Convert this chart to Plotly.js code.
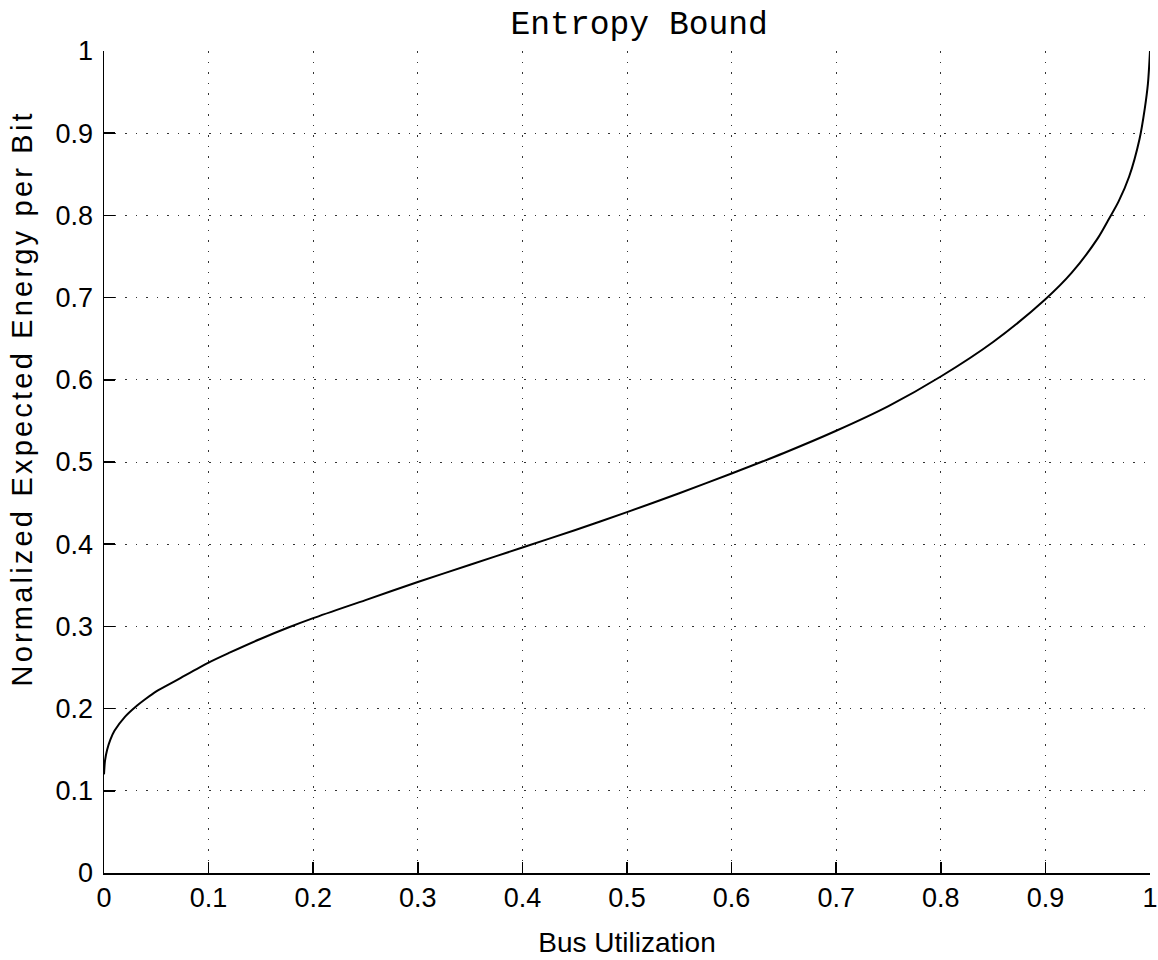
<!DOCTYPE html>
<html>
<head>
<meta charset="utf-8">
<script src="https://cdn.plot.ly/plotly-3.0.1.min.js"></script>
<style>html,body{margin:0;padding:0;background:#fff;}#chart{width:1158px;height:960px;}
#chart .annotation-text{letter-spacing:3.2px;}</style>
</head>
<body>
<div id="chart"></div>
<script>
const busUtilization = [0, 0.001, 0.003, 0.006, 0.01, 0.02, 0.03, 0.04, 0.05, 0.07, 0.1, 0.12, 0.15, 0.175, 0.2, 0.25, 0.3, 0.35, 0.4, 0.45, 0.5, 0.55, 0.6, 0.65, 0.7, 0.75, 0.8, 0.85, 0.9, 0.925, 0.95, 0.96, 0.97, 0.98, 0.99, 0.995, 0.998, 1.0];
const energyPerBit = [0.12, 0.137, 0.150, 0.162, 0.173, 0.190, 0.202, 0.212, 0.221, 0.235, 0.256, 0.268, 0.285, 0.298, 0.310, 0.332, 0.354, 0.375, 0.396, 0.417, 0.439, 0.462, 0.486, 0.511, 0.538, 0.568, 0.604, 0.646, 0.698, 0.730, 0.772, 0.794, 0.817, 0.847, 0.893, 0.930, 0.960, 1.0];
const xTicks = [0, 0.1, 0.2, 0.3, 0.4, 0.5, 0.6, 0.7, 0.8, 0.9, 1];
const xTickLabels = ['0', '0.1', '0.2', '0.3', '0.4', '0.5', '0.6', '0.7', '0.8', '0.9', '1'];
const yTicks = [0, 0.1, 0.2, 0.3, 0.4, 0.5, 0.6, 0.7, 0.8, 0.9, 1];
const yTickLabels = ['0', '0.1', '0.2', '0.3', '0.4', '0.5', '0.6', '0.7', '0.8', '0.9', '1'];
const yTitle = 'Normalized Expected Energy per Bit';

const trace = {
  x: busUtilization, y: energyPerBit, type: 'scatter', mode: 'lines',
  line: {color: '#000', width: 2, shape: 'spline', smoothing: 0.8},
  hoverinfo: 'skip'
};

const axisCommon = {
  showline: true, linecolor: '#000', linewidth: 1.5, mirror: false,
  ticks: 'inside', ticklen: 11, tickwidth: 1.5, tickcolor: '#000',
  showgrid: true, gridcolor: '#333', gridwidth: 1, griddash: '1.5px,9px',
  zeroline: false, ticklabeloverflow: 'allow',
  tickfont: {family: 'Liberation Sans, Arial, sans-serif', size: 27, color: '#000'}
};

const layout = {
  width: 1158, height: 960,
  margin: {l: 104, r: 8, t: 51, b: 87},
  paper_bgcolor: '#fff', plot_bgcolor: '#fff',
  showlegend: false,
  title: {text: 'Entropy Bound', font: {family: 'Liberation Mono, Courier New, monospace', size: 33, color: '#000'}, x: 0.552, xanchor: 'center', y: 0.977, yanchor: 'middle'},
  xaxis: Object.assign({}, axisCommon, {
    range: [0, 1], tickvals: xTicks, ticktext: xTickLabels, ticklabelstandoff: 0,
    title: {text: 'Bus Utilization', font: {family: 'Liberation Sans, Arial, sans-serif', size: 28, color: '#000'}, standoff: 20}
  }),
  yaxis: Object.assign({}, axisCommon, {
    range: [0, 1], tickvals: yTicks, ticktext: yTickLabels, ticklabelstandoff: 4
  }),
  annotations: [{
    text: yTitle, textangle: -90, showarrow: false,
    xref: 'paper', yref: 'paper', x: -0.079, y: 0.577, xanchor: 'center', yanchor: 'middle',
    font: {family: 'Liberation Sans, Arial, sans-serif', size: 29, color: '#000'}
  }]
};

Plotly.newPlot('chart', [trace], layout, {staticPlot: true, displayModeBar: false});
</script>
</body>
</html>
